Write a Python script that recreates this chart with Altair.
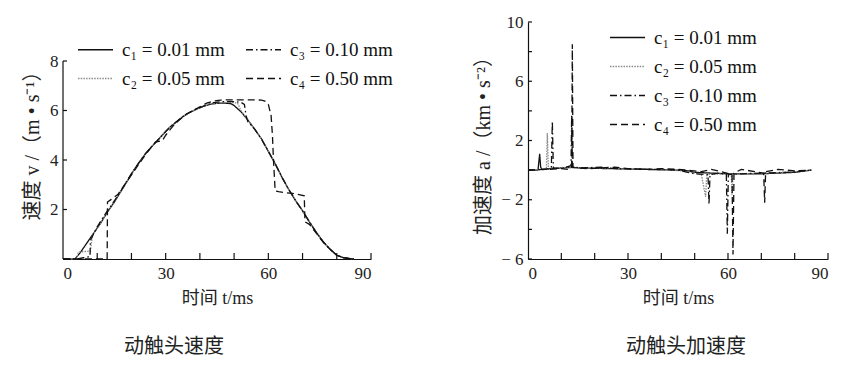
import altair as alt
import pandas as pd

# ---------------- data ----------------
labels = ["c₁ = 0.01 mm", "c₂ = 0.05 mm", "c₃ = 0.10 mm", "c₄ = 0.50 mm"]

# velocity (m/s) vs time (ms)
v1_t = [0, 3.5, 5, 7, 9, 11, 13, 15, 17, 19, 21, 23, 25, 27, 29, 31, 33, 35, 37, 39, 41, 43, 45, 47, 49, 50, 52, 54, 56, 58, 60, 62, 64, 66, 68, 70, 72, 74, 76, 78, 80, 82, 84, 85]
v1_v = [0, 0, 0.25, 0.65, 1.05, 1.45, 1.9, 2.3, 2.75, 3.2, 3.65, 4.05, 4.4, 4.7, 5.0, 5.3, 5.52, 5.75, 5.92, 6.05, 6.17, 6.25, 6.29, 6.3, 6.28, 6.2, 5.95, 5.62, 5.25, 4.85, 4.35, 3.85, 3.3, 2.8, 2.35, 1.95, 1.5, 1.08, 0.7, 0.4, 0.15, 0.05, 0.01, 0]

v2_t = [0, 4, 4.5, 6, 8, 8.6, 11, 13, 15, 17, 19, 21, 23, 25, 27, 29, 31, 33, 35, 37, 39, 41, 43, 45, 47, 49, 51, 52, 54, 56, 58, 60, 62, 64, 66, 68, 70, 72, 74, 76, 78, 80, 82, 84, 85]
v2_v = [0, 0, 0.28, 0.3, 0.32, 0.95, 1.45, 1.9, 2.3, 2.75, 3.2, 3.65, 4.05, 4.4, 4.7, 5.0, 5.3, 5.52, 5.75, 5.92, 6.05, 6.17, 6.25, 6.3, 6.33, 6.33, 6.3, 6.0, 5.62, 5.25, 4.85, 4.35, 3.85, 3.3, 2.8, 2.35, 1.95, 1.5, 1.08, 0.7, 0.4, 0.15, 0.05, 0.01, 0]

v3_t = [0, 4, 6, 7.9, 8, 10, 12, 14, 16, 18, 20, 22, 24, 26, 28, 30, 32, 34, 36, 38, 40, 42, 44, 46, 48, 50, 52, 53, 53.5, 54, 56, 58, 60, 62, 64, 66, 68, 70, 72, 74, 76, 78, 80, 82, 84, 85]
v3_v = [0, 0, 0.05, 0.1, 0.75, 1.3, 1.75, 2.15, 2.55, 3.0, 3.45, 3.85, 4.25, 4.55, 4.85, 5.15, 5.42, 5.65, 5.85, 6.0, 6.12, 6.22, 6.32, 6.35, 6.36, 6.36, 6.33, 6.25, 5.8, 5.55, 5.25, 4.85, 4.35, 3.85, 3.3, 2.8, 2.35, 1.95, 1.5, 1.08, 0.7, 0.4, 0.15, 0.05, 0.01, 0]

v4_t = [0, 12.9, 13, 14, 16, 18, 20, 22, 24, 26, 27, 28, 29, 30, 32, 34, 36, 38, 40, 42, 44, 46, 48, 50, 52, 54, 56, 58, 59, 60, 60.8, 61.2, 61.5, 62, 63, 65, 67, 69, 70.5, 70.7, 72, 74, 76, 78, 80, 82, 84, 85]
v4_v = [0, 0, 2.3, 2.4, 2.6, 3.0, 3.4, 3.8, 4.2, 4.55, 4.72, 4.75, 4.78, 5.0, 5.35, 5.62, 5.85, 6.0, 6.15, 6.3, 6.38, 6.42, 6.43, 6.43, 6.43, 6.43, 6.43, 6.42, 6.38, 6.25, 5.8, 5.0, 4.0, 2.75, 2.72, 2.68, 2.65, 2.6, 2.55, 1.5, 1.4, 1.05, 0.68, 0.4, 0.15, 0.05, 0.01, 0]

# acceleration (km/s^2) vs time (ms)
a1_t = [0, 3, 3.5, 3.8, 4.2, 6, 8, 10, 13, 16, 20, 25, 30, 35, 40, 45, 48, 50, 55, 60, 65, 70, 75, 80, 85]
a1_a = [0, 0, 1.1, 0.2, 0.05, 0.1, 0.12, 0.15, 0.18, 0.15, 0.12, 0.1, 0.08, 0.05, 0.02, 0, -0.05, -0.15, -0.2, -0.25, -0.25, -0.25, -0.2, -0.15, 0]

a2_t = [0, 4, 5.5, 5.8, 6.1, 8, 12, 16, 22, 28, 34, 40, 46, 50, 52, 53.3, 53.6, 54, 58, 61, 61.2, 61.5, 65, 72, 80, 85]
a2_a = [0, 0.05, 0.1, 2.5, 0.1, 0.15, 0.2, 0.15, 0.15, 0.1, 0.05, 0.03, -0.05, -0.2, -0.3, -1.8, -0.4, -0.3, -0.25, -0.3, -1.7, -0.3, -0.25, -0.2, -0.1, 0]

a3_t = [0, 5, 7, 7.3, 7.6, 10, 12.9, 13.1, 13.3, 16, 22, 26, 30, 40, 45, 50, 54, 54.3, 54.6, 57, 59.5, 59.8, 60.1, 64, 70, 78, 85]
a3_a = [0, 0.05, 0.1, 3.3, 0.15, 0.1, 0.3, 3.7, 0.2, 0.15, 0.2, 0.1, 0.08, 0.05, 0, -0.25, -0.3, -2.3, -0.3, -0.2, -0.3, -4.3, -0.3, -0.25, -0.2, -0.15, 0]

a4_t = [0, 6, 10, 12, 13.1, 13.3, 13.5, 15, 18, 22, 26, 30, 35, 40, 45, 48, 52, 55, 58, 61.2, 61.5, 61.8, 64, 68, 70.7, 71, 71.3, 75, 80, 85]
a4_a = [0, 0.05, 0.1, 0.05, 0.2, 8.5, 0.2, 0.15, 0.1, 0.15, 0.2, 0.1, 0.05, 0.1, 0.05, 0, -0.1, 0.05, -0.1, -0.3, -5.7, -0.2, 0.05, -0.1, -0.2, -2.2, -0.1, 0.05, -0.05, 0]

# axis tick values
x_ticks = [10, 20, 30, 40, 50, 60, 70, 80, 90]
v_ticks = [2, 4, 6, 8]
a_ticks = [-6, -4, -2, 0, 2, 4, 6, 8, 10]

# ---------------- build ----------------
def frame(ts, ys, lab):
    return pd.DataFrame({"t": ts, "y": ys, "s": lab})

vel = pd.concat([frame(v1_t, v1_v, labels[0]), frame(v2_t, v2_v, labels[1]),
                 frame(v3_t, v3_v, labels[2]), frame(v4_t, v4_v, labels[3])])
acc = pd.concat([frame(a1_t, a1_a, labels[0]), frame(a2_t, a2_a, labels[1]),
                 frame(a3_t, a3_a, labels[2]), frame(a4_t, a4_a, labels[3])])

FONT = "'Liberation Serif', 'Noto Sans CJK SC', serif"
colors = {labels[0]: "#111111", labels[1]: "#8a8a8a", labels[2]: "#111111", labels[3]: "#111111"}
dashes = {labels[0]: [1, 0], labels[1]: [1.5, 1.2], labels[2]: [7, 3, 1.5, 3], labels[3]: [7, 4]}

H = 237
W1, W2 = 308, 300
vmax = 8 * H / 198.0


def legend(x, y, cols, rowpad):
    return alt.Legend(title=None, orient="none", legendX=x, legendY=y, columns=cols,
                      symbolType="stroke", symbolSize=1225, symbolStrokeWidth=1.4,
                      labelFont=FONT, labelFontSize=19, labelColor="#111",
                      columnPadding=18, rowPadding=rowpad, labelOffset=8, padding=0)


def lines(data, order, ydom, yaxis, leg):
    return alt.Chart(data).mark_line(strokeWidth=1.3).encode(
        x=alt.X("t:Q", scale=alt.Scale(domain=[0, 90], nice=False, zero=False),
                axis=alt.Axis(values=[0, 30, 60, 90], ticks=False, grid=False,
                              title="时间 t/ms", titleFontSize=18, labelPadding=6, titlePadding=8)),
        y=alt.Y("y:Q", scale=alt.Scale(domain=ydom, nice=False, zero=False), axis=yaxis),
        color=alt.Color("s:N", scale=alt.Scale(domain=order, range=[colors[o] for o in order]),
                        legend=leg, sort=order),
        strokeDash=alt.StrokeDash("s:N", scale=alt.Scale(domain=order, range=[dashes[o] for o in order]),
                                  legend=leg, sort=order),
    )


def xtick_layer(h, length):
    return alt.Chart(pd.DataFrame({"t": x_ticks})).mark_rule(color="#111", strokeWidth=1.2).encode(
        x="t:Q", y=alt.value(h), y2=alt.value(h - length))


def ytick_layer(vals, length):
    return alt.Chart(pd.DataFrame({"y": vals})).mark_rule(color="#111", strokeWidth=1.2).encode(
        y="y:Q", x=alt.value(0), x2=alt.value(length))


# left panel
left_yaxis = alt.Axis(values=v_ticks, domain=False, ticks=False, grid=False,
                      title="速度 v /（m • s⁻¹）", titleFontSize=20, labelPadding=5, titlePadding=7)
left_lines = lines(vel, labels, [0, vmax], left_yaxis, legend(14, 9, 2, -10))
left_axis = alt.Chart(pd.DataFrame({"y0": [0], "y1": [8]})).mark_rule(color="#111", strokeWidth=1.2).encode(
    x=alt.value(0), y="y0:Q", y2="y1:Q")
left = alt.layer(left_lines, left_axis, xtick_layer(H, 6), ytick_layer(v_ticks, 4)).properties(
    width=W1, height=H,
    title=alt.TitleParams("动触头速度", orient="bottom", font=FONT, fontSize=20,
                          fontWeight="normal", color="#222", offset=30, dx=-43))

# right panel
right_yaxis = alt.Axis(values=a_ticks, ticks=False, grid=False,
                       labelExpr="(datum.value - 2) % 4 == 0 ? (datum.value < 0 ? '− ' + abs(datum.value) : '' + datum.value) : ''",
                       title="加速度 a /（km • s⁻²）", titleFontSize=20, labelPadding=5, titlePadding=7)
right_lines = lines(acc, labels, [-6, 10], right_yaxis, legend(81, -3, 1, -6))
right = alt.layer(right_lines, xtick_layer(H, 6), ytick_layer(a_ticks, 4)).properties(
    width=W2, height=H,
    title=alt.TitleParams("动触头加速度", orient="bottom", font=FONT, fontSize=20,
                          fontWeight="normal", color="#222", offset=30, dx=8))

chart = alt.hconcat(left, right, spacing=80).resolve_scale(
    color="independent", strokeDash="independent"
).resolve_legend(color="independent", strokeDash="independent").properties(
    padding={"left": 14, "top": 5, "right": 5, "bottom": 5}
).configure_view(stroke=None).configure_axis(
    domainColor="#111", domainWidth=1.2,
    labelFont=FONT, labelFontSize=17, labelColor="#222",
    titleFont=FONT, titleFontSize=17, titleFontWeight="normal", titleColor="#222",
)

chart.save("out.html", embed_options={"renderer": "svg", "actions": False})
